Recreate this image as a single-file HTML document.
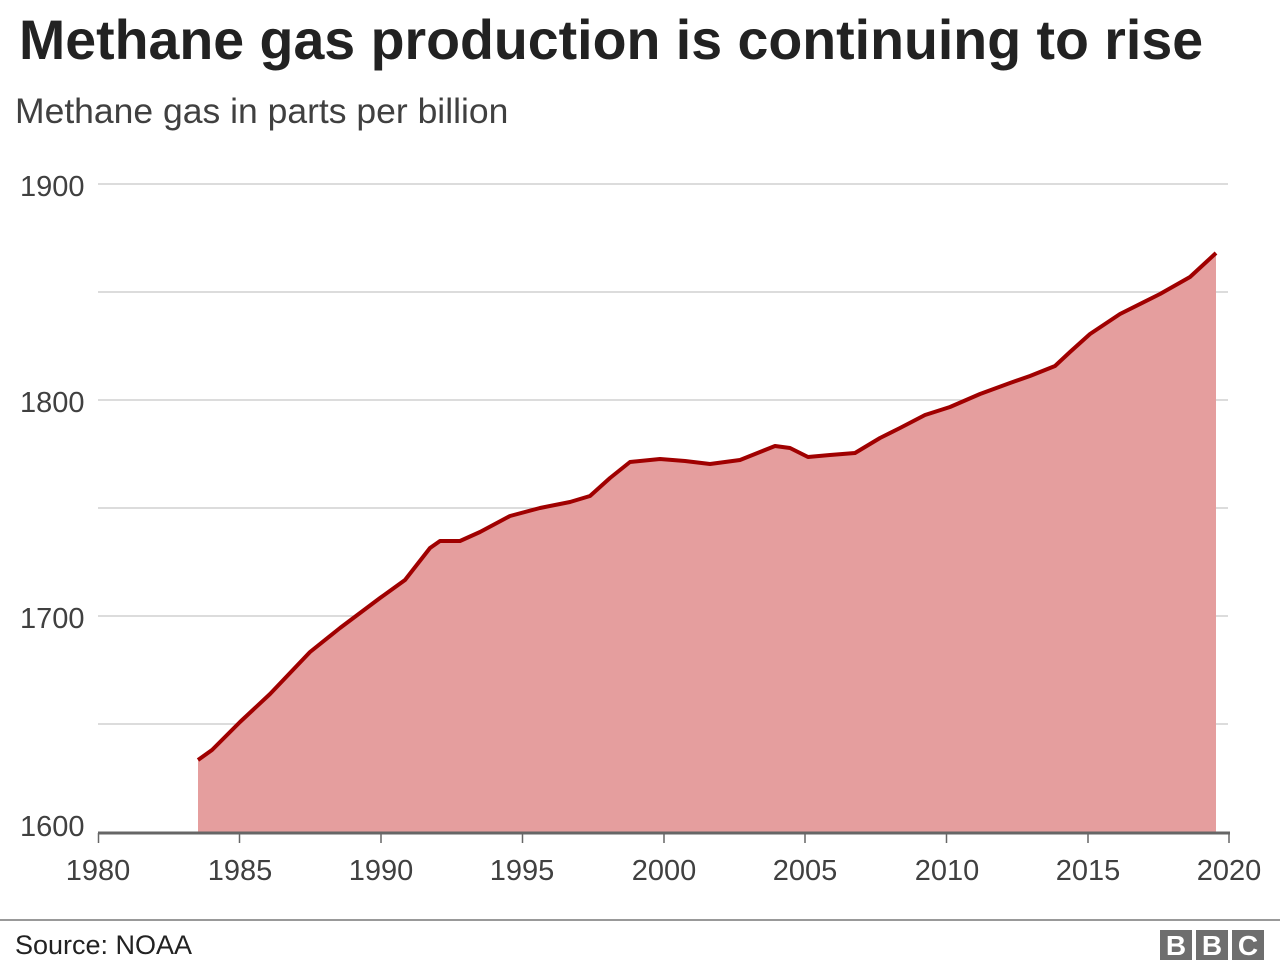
<!DOCTYPE html>
<html><head><meta charset="utf-8"><style>
body{margin:0;width:1280px;height:968px;background:#fff;font-family:"Liberation Sans",Arial,sans-serif;overflow:hidden;position:relative}
.t{position:absolute;white-space:nowrap}
</style></head><body>
<div class="t" style="left:19px;top:8px;font-size:55.5px;font-weight:bold;color:#222">Methane gas production is continuing to rise</div>
<div class="t" style="left:15px;top:91px;font-size:35.5px;color:#404040">Methane gas in parts per billion</div>
<svg width="1280" height="968" style="position:absolute;left:0;top:0">
<g stroke="#c8c8c8" stroke-width="1.2">
<line x1="98" x2="1228" y1="184" y2="184"/><line x1="98" x2="1228" y1="292" y2="292"/>
<line x1="98" x2="1228" y1="400" y2="400"/><line x1="98" x2="1228" y1="508" y2="508"/>
<line x1="98" x2="1228" y1="616" y2="616"/><line x1="98" x2="1228" y1="724" y2="724"/>
</g>
<g font-size="29" fill="#404040">
<text x="20" y="196">1900</text><text x="20" y="412">1800</text><text x="20" y="628">1700</text><text x="20" y="836">1600</text>
</g>
<path d="M198,760 L212,750 L240,722 L270,694 L310,652 L340,628 L380,598 L405,580 L430,548 L440,541 L460,541 L480,532 L510,516 L540,508 L570,502 L590,496 L610,478 L630,462 L660,459 L685,461 L710,464 L740,460 L760,452 L775,446 L790,448 L808,457 L830,455 L855,453 L880,438 L900,428 L925,415 L950,407 L980,394 L1010,383 L1030,376 L1055,366 L1070,352 L1090,334 L1120,314 L1160,294 L1190,277 L1216,253 L1216,833 L198,833 Z" fill="#e59e9e"/>
<path d="M198,760 L212,750 L240,722 L270,694 L310,652 L340,628 L380,598 L405,580 L430,548 L440,541 L460,541 L480,532 L510,516 L540,508 L570,502 L590,496 L610,478 L630,462 L660,459 L685,461 L710,464 L740,460 L760,452 L775,446 L790,448 L808,457 L830,455 L855,453 L880,438 L900,428 L925,415 L950,407 L980,394 L1010,383 L1030,376 L1055,366 L1070,352 L1090,334 L1120,314 L1160,294 L1190,277 L1216,253" fill="none" stroke="#a00000" stroke-width="4" stroke-linejoin="round"/>
<line x1="98" x2="1230" y1="833" y2="833" stroke="#666" stroke-width="3"/>
<g stroke="#666" stroke-width="1.5">
<line x1="98.5" x2="98.5" y1="833" y2="843"/><line x1="239.5" x2="239.5" y1="833" y2="843"/><line x1="381" x2="381" y1="833" y2="843"/><line x1="522.5" x2="522.5" y1="833" y2="843"/><line x1="664" x2="664" y1="833" y2="843"/><line x1="805" x2="805" y1="833" y2="843"/><line x1="946.5" x2="946.5" y1="833" y2="843"/><line x1="1088" x2="1088" y1="833" y2="843"/><line x1="1229" x2="1229" y1="833" y2="843"/>
</g>
<g font-size="29" fill="#404040" text-anchor="middle">
<text x="98" y="880">1980</text><text x="240" y="880">1985</text><text x="381" y="880">1990</text><text x="522" y="880">1995</text><text x="664" y="880">2000</text><text x="805" y="880">2005</text><text x="947" y="880">2010</text><text x="1088" y="880">2015</text><text x="1229" y="880">2020</text>
</g>
<line x1="0" x2="1280" y1="920" y2="920" stroke="#999" stroke-width="2"/>
<text x="15" y="954" font-size="27" fill="#222">Source: NOAA</text>
<g fill="#6e6e6e"><rect x="1160" y="930" width="32" height="30"/><rect x="1196" y="930" width="32" height="30"/><rect x="1232" y="930" width="32" height="30"/></g>
<g fill="#fff" font-size="28" font-weight="bold" text-anchor="middle"><text x="1176" y="955">B</text><text x="1212" y="955">B</text><text x="1248" y="955">C</text></g>
</svg>
</body></html>
